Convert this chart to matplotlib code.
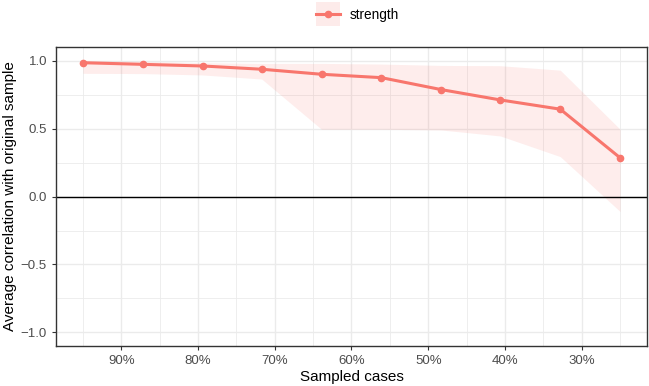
import numpy as np
import matplotlib
matplotlib.use('Agg')
import matplotlib.pyplot as plt
from matplotlib.lines import Line2D

plt.rcParams['font.family'] = ['Liberation Sans', 'DejaVu Sans']

sampled = [95.0, 87.2, 79.4, 71.7, 63.9, 56.1, 48.3, 40.6, 32.8, 25.0]
mean_cor = [0.985, 0.973, 0.961, 0.937, 0.900, 0.875, 0.787, 0.711, 0.643, 0.285]
upper = [1.0, 0.995, 0.985, 0.980, 0.980, 0.975, 0.965, 0.963, 0.930, 0.495]
lower = [0.907, 0.905, 0.895, 0.865, 0.495, 0.495, 0.490, 0.446, 0.294, -0.110]
xticks = [90, 80, 70, 60, 50, 40, 30]

col = '#F8766D'

fig = plt.figure(figsize=(6.49, 3.86), dpi=100)
ax = fig.add_axes([0.0863, 0.1036, 0.9106, 0.7744])

ax.fill_between(sampled, lower, upper, color=col, alpha=0.13, linewidth=0)
ax.plot(sampled, mean_cor, color=col, linewidth=2.2, marker='o', markersize=4.5, zorder=3)
ax.axhline(0, color='black', linewidth=1.0, zorder=2)

ax.set_xlim(98.5, 21.5)
ax.set_ylim(-1.1, 1.1)
ax.set_xticks(xticks)
ax.set_xticklabels([f'{t}%' for t in xticks])
ax.set_xticks([95, 85, 75, 65, 55, 45, 35, 25], minor=True)
ax.set_yticks([-1.0, -0.5, 0.0, 0.5, 1.0])
ax.set_yticklabels(['\u22121.0', '\u22120.5', '0.0', '0.5', '1.0'])
ax.set_yticks([-0.75, -0.25, 0.25, 0.75], minor=True)

ax.grid(which='major', color='#EBEBEB', linewidth=1.0)
ax.grid(which='minor', color='#EBEBEB', linewidth=0.6)
ax.set_axisbelow(True)
for s in ax.spines.values():
    s.set_color('#333333')
    s.set_linewidth(1.0)
ax.tick_params(which='major', length=3, color='#333333', labelcolor='#4D4D4D', labelsize=9.5)
ax.tick_params(which='minor', length=0)

ax.set_xlabel('Sampled cases', fontsize=11, labelpad=2)
ax.set_ylabel('Average correlation with original sample', fontsize=11, labelpad=3)

# legend key: pale square behind line + point, like ggplot's key background
key_bg = Line2D([], [], linestyle='none', marker='s', markersize=17.5,
                markerfacecolor='#FDEBEA', markeredgewidth=0)
key_line = Line2D([], [], color=col, linewidth=2.2, marker='o', markersize=4.5)
fig.legend([(key_bg, key_line)], ['strength'], loc='center left',
           bbox_to_anchor=(0.487, 0.961), frameon=False, fontsize=9.8,
           borderpad=0, borderaxespad=0, handlelength=1.76, handletextpad=0.69)

fig.savefig('out.png', dpi=100)
